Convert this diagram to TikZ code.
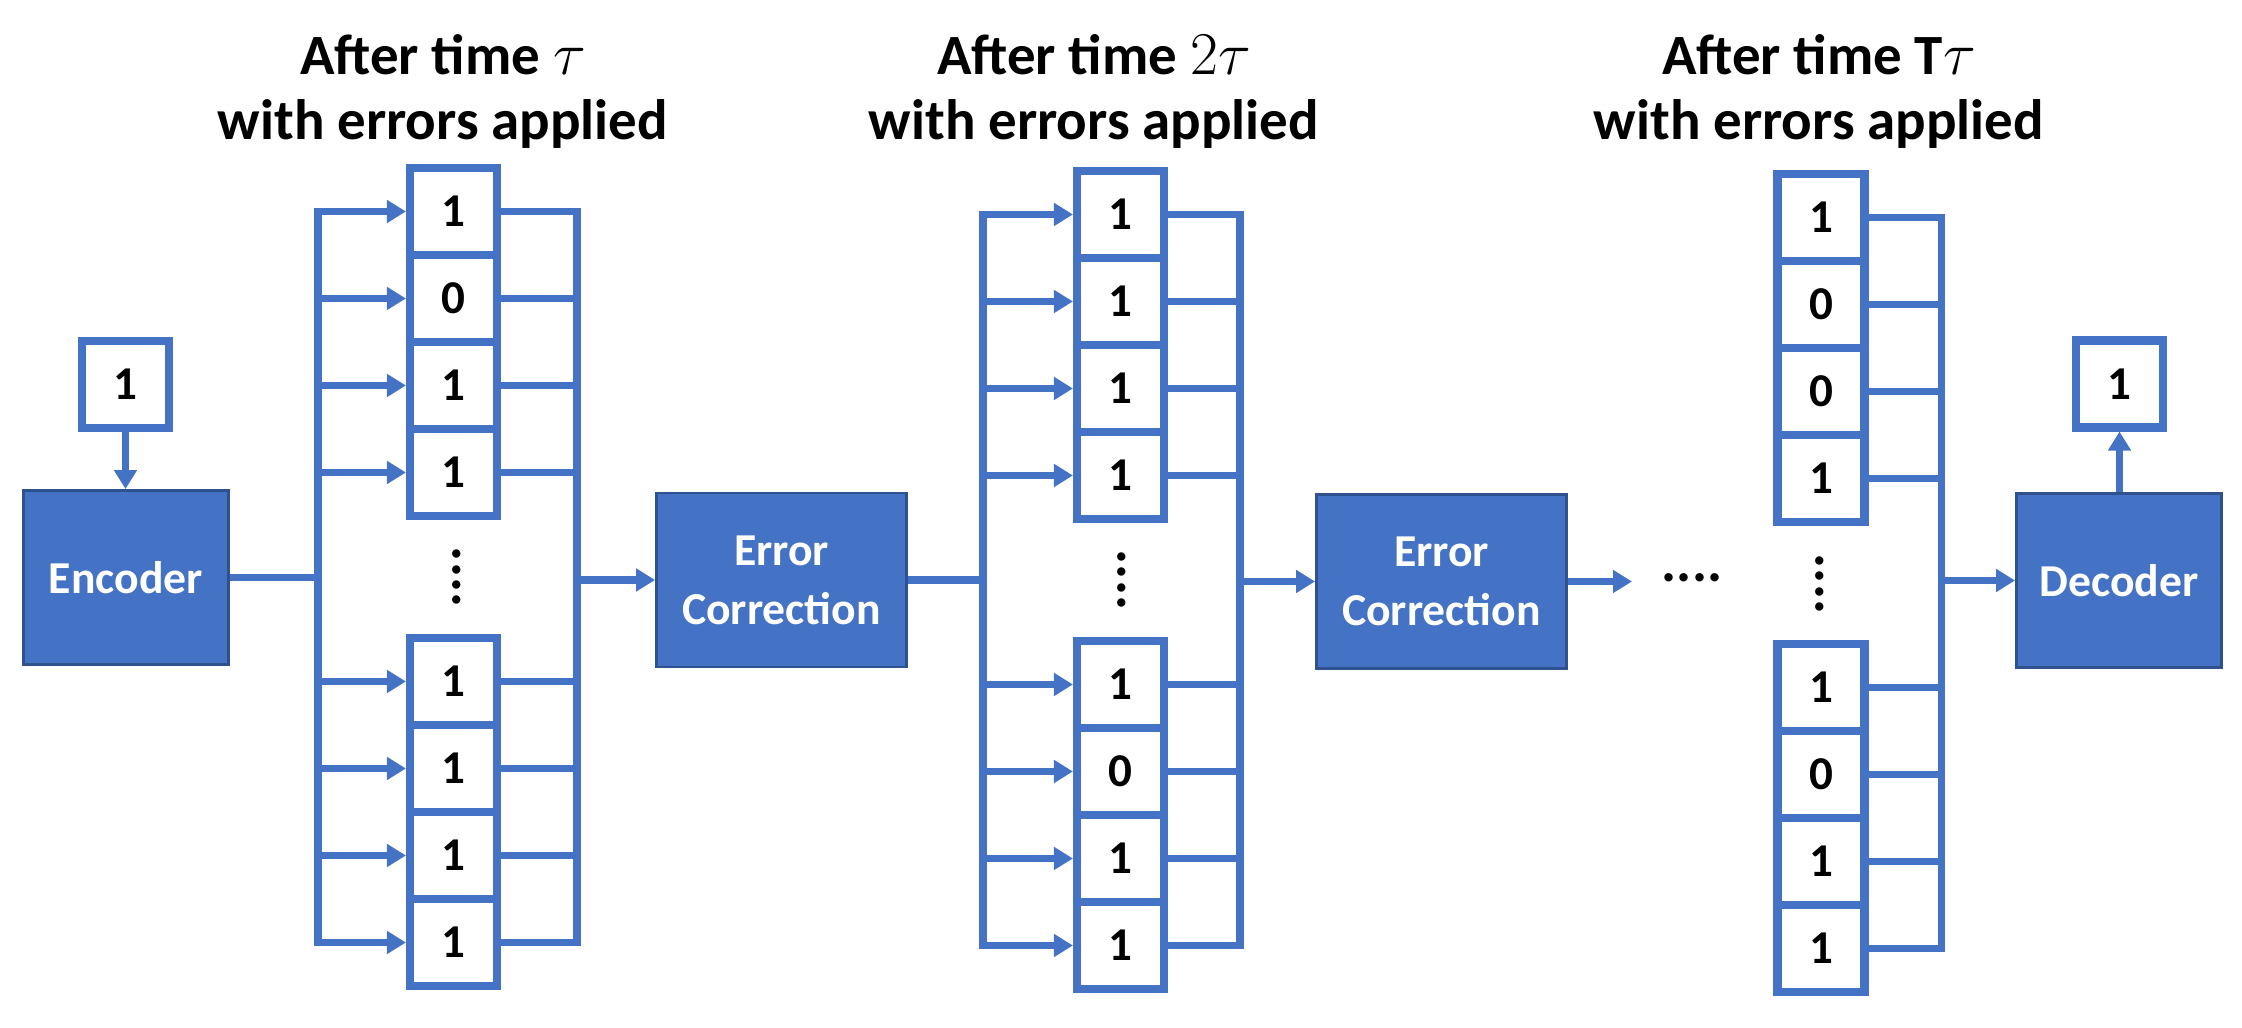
\documentclass[tikz,border=0pt]{standalone}
\usepackage{fontspec}
\setmainfont{Carlito}
\usetikzlibrary{arrows.meta}

\definecolor{qblue}{HTML}{4472C4}
\definecolor{qedge}{HTML}{2F528F}

\tikzset{
  cell/.style={draw=qblue,fill=white,line width=2.3pt,minimum size=0.87cm,inner sep=0pt,
    font=\bfseries\fontsize{13.4}{14}\selectfont},
  proc/.style={draw=qedge,fill=qblue,line width=0.8pt,text=white,align=center,inner sep=0pt,
    minimum height=1.74cm,font=\bfseries\fontsize{13}{16.8}\selectfont},
  title/.style={align=center,anchor=base,font=\bfseries\fontsize{16.2}{18.5}\selectfont},
  wire/.style={qblue,line width=2pt},
  arr/.style={wire,-{Triangle[length=1.9mm,width=2.2mm]}},
  dots/.style={font=\bfseries\fontsize{16}{16}\selectfont,inner sep=0pt}
}

\begin{document}
\begin{tikzpicture}
\useasboundingbox (0,0) rectangle (22.42,10.28);

% Titles (base = last line)
\node[title] (t1) at (4.43,8.88) {After time $\tau$\\with errors applied};
\node[title] (t2) at (10.94,8.88) {After time $2\tau$\\with errors applied};
\node[title] (t3) at (18.19,8.88) {After time T$\tau$\\with errors applied};

% Encoder / correction / decoder blocks
\node[cell] (in) at (1.255,6.435) {1};
\node[proc,minimum width=2.05cm] (enc) at (1.26,4.505) {Encoder};
\node[proc,minimum width=2.50cm] (ec1) at (7.815,4.48) {Error\\Correction};
\node[proc,minimum width=2.50cm] (ec2) at (14.415,4.465) {Error\\Correction};
\node[proc,minimum width=2.05cm] (dec) at (21.19,4.475) {Decoder};
\node[cell] (out) at (21.195,6.44) {1};

% Bus positions
\coordinate (l1) at (3.18,0);
\coordinate (r1) at (5.77,0);
\coordinate (l2) at (9.83,0);
\coordinate (r2) at (12.40,0);
\coordinate (r3) at (19.41,0);
\coordinate (more) at (16.32,0);

% Qubit columns
\foreach \v [count=\i] in {1,0,1,1,1,1,1,1}
{\pgfmathsetmacro\dy{\i<5 ? 3.655-0.87*(\i-1) : -1.045-0.87*(\i-5)}
\node[cell] (a\i) at (4.535,4.51+\dy) {\v};}
\foreach \v [count=\i] in {1,1,1,1,1,0,1,1}
{\pgfmathsetmacro\dy{\i<5 ? 3.655-0.87*(\i-1) : -1.045-0.87*(\i-5)}
\node[cell] (b\i) at (11.205,4.48+\dy) {\v};}
\foreach \v [count=\i] in {1,0,0,1,1,0,1,1}
{\pgfmathsetmacro\dy{\i<5 ? 3.655-0.87*(\i-1) : -1.045-0.87*(\i-5)}
\node[cell] (c\i) at (18.21,4.45+\dy) {\v};}

\node[dots,rotate=90] (v1) at (4.57,4.51) {....};
\node[dots,rotate=90] (v2) at (11.22,4.48) {....};
\node[dots,rotate=90] (v3) at (18.20,4.44) {....};
\node[dots] (h1) at (16.92,4.50) {....};

% Fan-out and fan-in wires
\foreach \i in {1,...,8}
{\draw[arr] (a\i.west -| l1) -- (a\i.west);
\draw[wire] (a\i.east) -- (a\i.east -| r1);
\draw[arr] (b\i.west -| l2) -- (b\i.west);
\draw[wire] (b\i.east) -- (b\i.east -| r2);
\draw[wire] (c\i.east) -- (c\i.east -| r3);}

\draw[wire,line cap=rect] (a1 -| l1) -- (a8 -| l1);
\draw[wire,line cap=rect] (a1 -| r1) -- (a8 -| r1);
\draw[wire,line cap=rect] (b1 -| l2) -- (b8 -| l2);
\draw[wire,line cap=rect] (b1 -| r2) -- (b8 -| r2);
\draw[wire,line cap=rect] (c1 -| r3) -- (c8 -| r3);

% Main flow
\draw[arr] (in.south) -- (in.south |- enc.north);
\draw[wire] (enc.east) -- (enc.east -| l1);
\draw[arr] (ec1.west -| r1) -- (ec1.west);
\draw[wire] (ec1.east) -- (ec1.east -| l2);
\draw[arr] (ec2.west -| r2) -- (ec2.west);
\draw[arr] (ec2.east) -- (ec2.east -| more);
\draw[arr] (dec.west -| r3) -- (dec.west);
\draw[arr] (dec.north -| out) -- (out.south);
\end{tikzpicture}
\end{document}
